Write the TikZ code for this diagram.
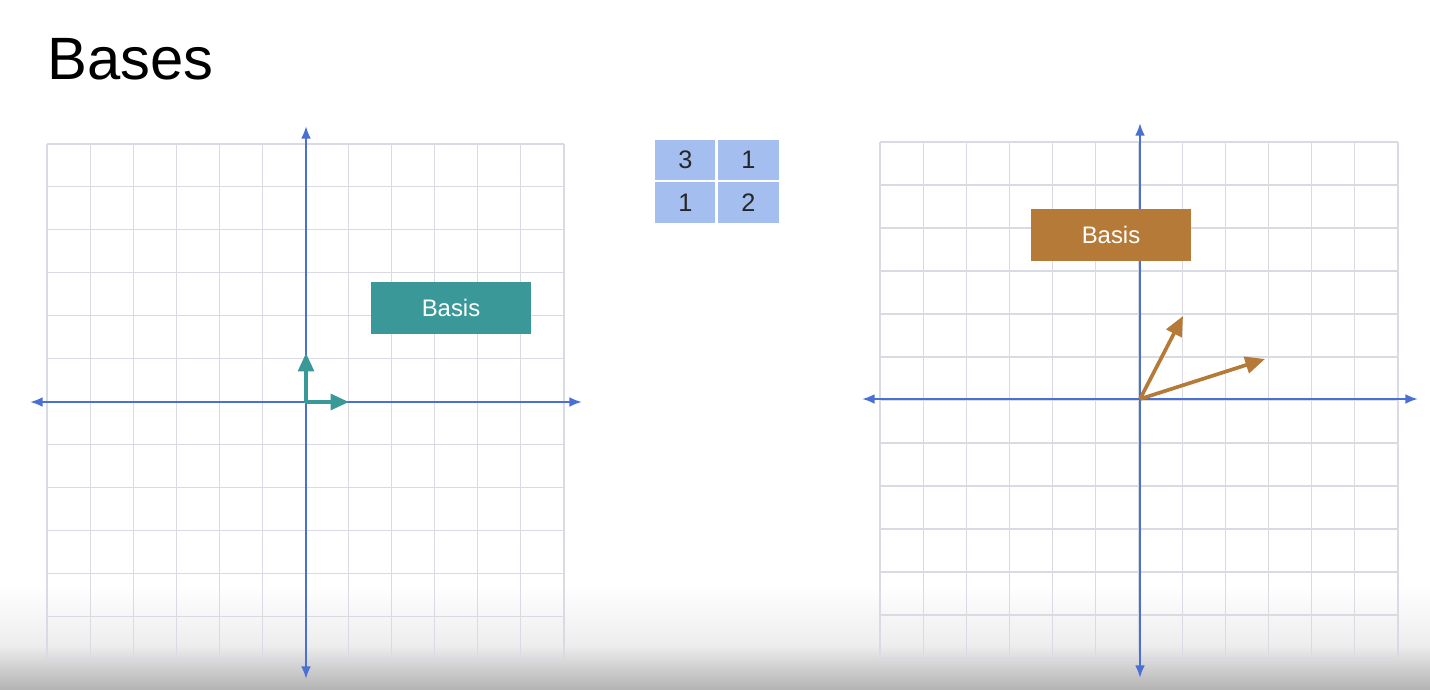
\documentclass[tikz,border=0pt]{standalone}
\usepackage{fontspec}
\setmainfont{Liberation Sans}
\usepackage{tikz}
\usetikzlibrary{arrows.meta,positioning,calc}
\definecolor{axisblue}{RGB}{74,112,214}
\definecolor{gridgray}{RGB}{218,218,226}
\definecolor{tealbox}{RGB}{58,152,152}
\definecolor{brownbox}{RGB}{181,122,55}
\definecolor{cellblue}{RGB}{164,190,240}

\begin{document}
\begin{tikzpicture}[
  x=0.025cm, y=-0.025cm,
  gridline/.style={gridgray, line width=0.8pt},
  axis/.style={{Latex[length=9pt,width=7pt]}-{Latex[length=9pt,width=7pt]}, axisblue, line width=1.6pt},
  basisbox/.style={rectangle, minimum width=4cm, minimum height=1.3cm, text=white, font=\fontsize{17}{20}\selectfont},
  cell/.style={rectangle, fill=cellblue, draw=white, line width=1.5pt, minimum width=1.6cm, minimum height=1.07cm, text=black!85, font=\fontsize{18}{21}\selectfont},
  vec/.style={-{Triangle[length=13pt,width=11pt]}, line width=2.8pt},
  bvec/.style={-{Triangle[length=14pt,width=12pt]}, brownbox, line width=2.6pt}
]
  \useasboundingbox (0,0) rectangle (1430,690);
  \fill[white] (0,0) rectangle (1430,690);
  \shade[top color=white, bottom color=black!7] (0,585) rectangle (1430,645);
  \shade[top color=black!7, bottom color=black!30] (0,645) rectangle (1430,690);

  \node[anchor=base west, font=\fontsize{42.5}{50}\selectfont, inner sep=0pt] (title) at (47,80) {Bases};

  \foreach \i in {0,...,12} {
    \draw[gridline] ({47+\i*43.08},144) -- ({47+\i*43.08},659);
    \draw[gridline] (47,{144+\i*42.92}) -- (564,{144+\i*42.92});
    \draw[gridline] ({880+\i*43.17},142) -- ({880+\i*43.17},658);
    \draw[gridline] (880,{142+\i*43}) -- (1398,{142+\i*43});
  }

  \coordinate (lo) at (306,402);
  \coordinate (lleft) at (30,402);
  \coordinate (lright) at (582,402);
  \coordinate (ltop) at (306,126);
  \coordinate (lbot) at (306,679);
  \draw[axis] (lleft) -- (lright);
  \draw[axis] (ltop) -- (lbot);

  \coordinate (ro) at (1140,399);
  \coordinate (rleft) at (862,399);
  \coordinate (rright) at (1418,399);
  \coordinate (rtop) at (1140,123);
  \coordinate (rbot) at (1140,678);
  \draw[axis] (rleft) -- (rright);
  \draw[axis] (rtop) -- (rbot);

  \coordinate (ei) at (349,402);
  \coordinate (ej) at (306,353);
  \draw[vec, tealbox] ($(lo)+(-1,0)$) -- (ei);
  \draw[vec, tealbox] ($(lo)+(0,1)$) -- (ej);

  \coordinate (bi) at (1265,359);
  \coordinate (bj) at (1183,316);
  \draw[bvec] (ro) -- (bi);
  \draw[bvec] (ro) -- (bj);

  \node[basisbox, fill=tealbox] (lbasis) at (451,308) {Basis};
  \node[basisbox, fill=brownbox] (rbasis) at (1111,235) {Basis};

  \node[cell] (m11) at (685.5,160) {3};
  \node[cell] (m12) at (748.5,160) {1};
  \node[cell] (m21) at (685.5,202.5) {1};
  \node[cell] (m22) at (748.5,202.5) {2};
\end{tikzpicture}
\end{document}
